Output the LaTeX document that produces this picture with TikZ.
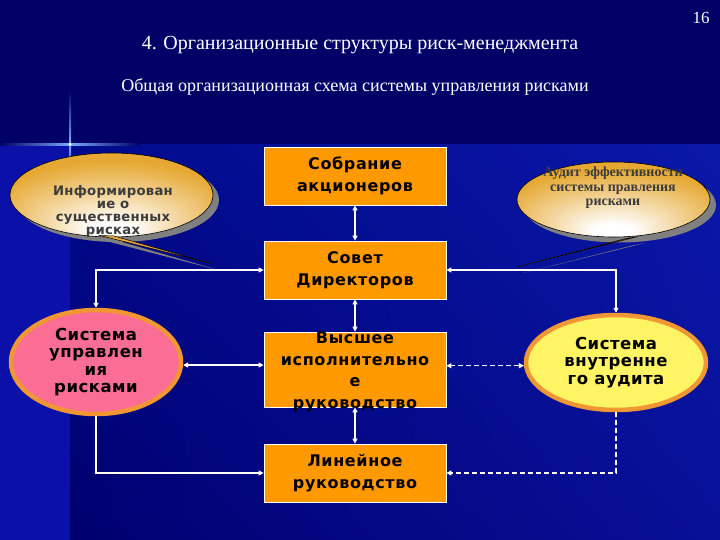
\documentclass[tikz,border=0pt]{standalone}
\usepackage{fontspec}
\setmainfont{Liberation Serif}
\newfontfamily\boxfont{DejaVu Sans}[LetterSpace=4]
\newfontfamily\ellfont{DejaVu Sans}[LetterSpace=3]
\newfontfamily\callfont{DejaVu Sans}[LetterSpace=2]
\usetikzlibrary{shapes.geometric,arrows.meta,calc,shadings}
\definecolor{navy}{RGB}{0,0,102}
\definecolor{leftblue}{RGB}{10,16,168}
\definecolor{bgul}{RGB}{0,10,140}
\definecolor{bgur}{RGB}{10,24,168}
\definecolor{bgll}{RGB}{0,0,110}
\definecolor{bglr}{RGB}{8,16,152}
\definecolor{boxorange}{RGB}{255,153,0}
\definecolor{callgold}{RGB}{230,168,50}
\definecolor{shadowgray}{RGB}{128,128,128}
\definecolor{pinkfill}{RGB}{250,110,150}
\definecolor{ellborder}{RGB}{240,150,50}
\definecolor{yellowfill}{RGB}{255,245,100}
\definecolor{calltextgray}{RGB}{60,60,60}
\definecolor{flare}{RGB}{120,170,255}
\pgfdeclareradialshading{callshade}{\pgfpoint{0bp}{-24bp}}{color(0bp)=(white); color(5bp)=(white); color(16bp)=(callgold!45!white); color(30bp)=(callgold); color(50bp)=(callgold)}
\begin{document}
\begin{tikzpicture}[x=1pt,y=-1pt,
  >={Triangle[length=5pt,width=5pt]},
  box/.style={draw=white, line width=0.8pt, fill=boxorange, minimum width=182pt,
    minimum height=58pt, inner sep=0pt, align=center, text=black,
    font=\boxfont\bfseries\fontsize{16}{21.5}\selectfont},
  boxtext/.style={inner sep=0pt, align=center, text=black,
    font=\boxfont\bfseries\fontsize{16}{21.5}\selectfont},
  ellbox/.style={ellipse, draw=ellborder, line width=4.5pt, inner sep=0pt,
    align=center, text=black, font=\ellfont\bfseries\fontsize{16.5}{17.5}\selectfont},
  callout/.style={ellipse, draw=black, line width=0.6pt, shade, shading=callshade, inner sep=0pt},
  callshadow/.style={ellipse, fill=shadowgray, inner sep=0pt},
  conn/.style={draw=white, line width=1.1pt},
  dconn/.style={draw=white, line width=1.1pt, dash pattern=on 5pt off 3pt}
]
\useasboundingbox (0,0) rectangle (720,540);
% background
\fill[navy] (0,0) rectangle (720,145);
\fill[leftblue] (0,145) rectangle (70,540);
\shade[upper left=bgul, upper right=bgur, lower left=bgll, lower right=bglr]
  (70,145) rectangle (720,540);
% flare
\shade[top color=navy, bottom color=leftblue, middle color=flare] (69,90) rectangle (71,198);
\shade[left color=navy, right color=navy, middle color=flare] (0,143.2) rectangle (140,145.4);
\fill[white] (70,144.3) circle (1.6);
% titles
\node[text=white, font=\fontsize{20}{24}\selectfont] (title) at (360,45) {4. Организационные структуры риск-менеджмента};
\node[text=white, font=\fontsize{18}{20}\selectfont] (subtitle) at (355,87) {Общая организационная схема системы управления рисками};
\node[text=white, font=\fontsize{17}{20}\selectfont] (pagenum) at (701,18) {16};
% left callout
\node[callshadow, minimum width=203pt, minimum height=84pt] (infsh) at (117.5,200) {};
\fill[shadowgray] (106,241) -- (122,242) -- (218,270) -- cycle;
\node[callout, minimum width=203pt, minimum height=84pt] (inf) at (111.5,195) {};
\filldraw[fill=callgold, draw=black, line width=0.5pt] (100,235.5) -- (114,236) -- (213,264) -- cycle;
\node[inner sep=0pt, align=center, text=calltextgray, font=\callfont\bfseries\fontsize{13.2}{13}\selectfont] (inft) at (113,211) {Информирован\\ие о\\существенных\\рисках};
% right callout
\node[callshadow, minimum width=193pt, minimum height=75pt] (effsh) at (619.5,205) {};
\fill[shadowgray] (645,243) -- (630,246) -- (523,273) -- cycle;
\node[callout, minimum width=193pt, minimum height=75pt] (eff) at (613.5,199.5) {};
\filldraw[fill=callgold, draw=black, line width=0.5pt] (638,236.5) -- (624,239) -- (517,267) -- cycle;
\node[inner sep=0pt, align=center, text=calltextgray, font=\bfseries\fontsize{14}{14.5}\selectfont] (efft) at (613,188) {Аудит эффективности\\системы правления\\рисками};
% boxes
\node[box] (sob) at (355,176) {Собрание\\акционеров};
\node[box] (sov) at (355,270) {Совет\\Директоров};
\node[box, minimum height=75pt] (vys) at (355,369.5) {};
\node[boxtext] (vyst) at (355,372) {Высшее\\исполнительно\\е\\руководство};
\node[box] (lin) at (355,473) {Линейное\\руководство};
% ellipses
\node[ellbox, fill=pinkfill, minimum width=170pt, minimum height=104pt] (sys) at (96,362) {Система\\управлен\\ия\\рисками};
\node[ellbox, fill=yellowfill, minimum width=180pt, minimum height=95pt] (aud) at (616,362.5) {Система\\внутренне\\го аудита};
% connectors
\draw[conn, <->] (sob.south) -- (sov.north);
\draw[conn, <->] (sov.south) -- (vys.north);
\draw[conn, <->] (vys.south) -- (lin.north);
\draw[conn, <->] (sov.west) -| (sys.north);
\draw[conn, <->] (sov.east) -| (aud.north);
\draw[conn, <->] (sys.-2.7) -- (sys.-2.7 -| vys.west);
\draw[dconn, <->] (aud.182.2) -- (aud.182.2 -| vys.east);
\draw[conn, ->] (sys.south) |- (lin.west);
\draw[dconn, ->] (aud.south) |- (lin.east);
\end{tikzpicture}
\end{document}
